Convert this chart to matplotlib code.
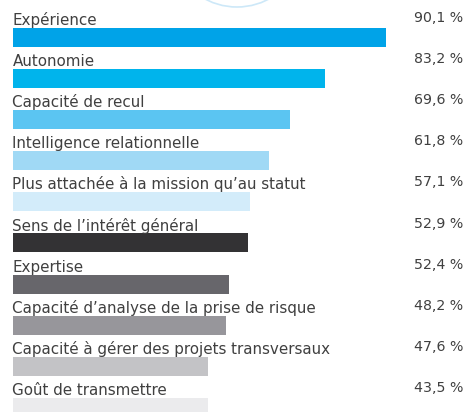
import matplotlib.pyplot as plt
from matplotlib.patches import Arc

labels = ["Expérience", "Autonomie", "Capacité de recul", "Intelligence relationnelle",
          "Plus attachée à la mission qu\u2019au statut", "Sens de l\u2019intérêt général",
          "Expertise", "Capacité d\u2019analyse de la prise de risque",
          "Capacité à gérer des projets transversaux", "Goût de transmettre"]
values = [90.1, 83.2, 69.6, 61.8, 57.1, 52.9, 52.4, 48.2, 47.6, 43.5]
# bar lengths as drawn in the source (not strictly proportional to the values)
bar_lengths = [90.1, 75.4, 66.9, 61.9, 57.3, 56.8, 52.2, 51.5, 47.2, 47.2]
colors = ["#00a3e8", "#00b4ec", "#5bc5f2", "#a0d9f5", "#d3ecfa",
          "#333234", "#67666b", "#97969b", "#c3c3c6", "#ebebed"]

plt.rcParams['font.family'] = ['DejaVu Sans']

fig = plt.figure(figsize=(4.67, 4.12), dpi=100)
ax = fig.add_axes([0, 0, 1, 1])

px = 4.145  # pixels per unit
ys = range(len(labels))
ax.barh(ys, bar_lengths, height=19 / 41.1, color=colors, left=0)

for i, (lab, v) in enumerate(zip(labels, values)):
    ax.text(0, i - 0.231 - 3 / 41.1, lab, fontsize=10.9, color="#404040",
            va="baseline", ha="left")
    ax.text((463 - 12.5) / px, i - 0.231 - 6 / 41.1, f"{v:.1f} %".replace(".", ","),
            fontsize=10.2, color="#404040", va="baseline", ha="right")

ax.set_xlim(-12.5 / px, (467 - 12.5) / px)
ax.set_ylim((412 - 37.5) / 41.1, -37.5 / 41.1)
ax.axis("off")

# faint decorative circle at the top
ax.add_patch(Arc((237 / 467, 1 + 61 / 412), 136 / 467, 136 / 412, theta1=240, theta2=300,
                 transform=ax.transAxes, color="#cde8f8", lw=1.2, clip_on=False))

fig.savefig("out.png", dpi=100)
